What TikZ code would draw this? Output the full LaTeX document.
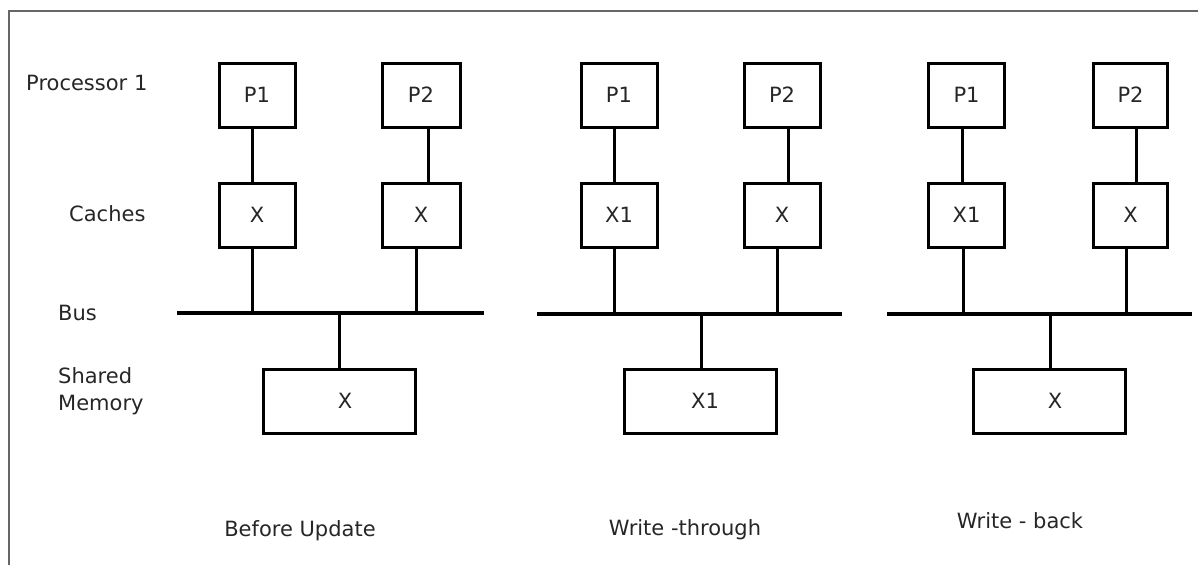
\documentclass[tikz,border=0pt]{standalone}
\usepackage{fontspec}
\setmainfont{DejaVu Sans}
\begin{document}
\begin{tikzpicture}[x=1pt,y=-1pt,
  every node/.style={font=\fontsize{21}{27}\selectfont, text=black!85},
  unit/.style={draw=black, line width=3pt, minimum width=76pt, minimum height=64pt, inner sep=0pt},
  memunit/.style={unit, minimum width=152pt},
  wire/.style={line width=3pt, black},
  busline/.style={line width=3.8pt, black},
  rowlabel/.style={anchor=west, align=left, inner sep=0pt},
  caption/.style={inner sep=0pt}]
\useasboundingbox (0,0) rectangle (1198,565);
% frame on the top and left edges
\draw[line width=2.2pt, black!60] (9,565) -- (9,11) -- (1198,11);

% row labels
\node[rowlabel] (lproc) at (26,83) {Processor 1};
\node[rowlabel] (lcache) at (69,214) {Caches};
\node[rowlabel] (lbus) at (58,313) {Bus};
\node[rowlabel] (lmem) at (58,391) {Shared\\Memory};

% ---- before update ----
\node[unit] (ap1) at (257,95) {P1};
\node[unit, minimum width=78pt] (ap2) at (421,95) {P2};
\node[unit] (ac1) at (257,215) {X};
\node[unit, minimum width=78pt] (ac2) at (421,215) {X};
\coordinate (abl) at (177,313);
\coordinate (abr) at (484,313);
\draw[busline] (abl) -- (abr);
\node[memunit] (am) at (339.5,401) {\hspace*{11pt}X};
\draw[wire] ([xshift=-5pt]ap1.south) -- ([xshift=-5pt]ac1.north);
\draw[wire] ([xshift=7pt]ap2.south) -- ([xshift=7pt]ac2.north);
\draw[wire] ([xshift=-5pt]ac1.south) -- ([xshift=-5pt]ac1.south |- abl);
\draw[wire] ([xshift=-5pt]ac2.south) -- ([xshift=-5pt]ac2.south |- abl);
\draw[wire] (am.north) -- (am.north |- abl);
\node[caption] (acap) at (300,531) {Before Update};

% ---- write-through ----
\node[unit] (bp1) at (619,95) {P1};
\node[unit] (bp2) at (782,95) {P2};
\node[unit] (bc1) at (619,215) {X1};
\node[unit] (bc2) at (782,215) {X};
\coordinate (bbl) at (537,314);
\coordinate (bbr) at (842,314);
\draw[busline] (bbl) -- (bbr);
\node[memunit] (bm) at (700,401) {\hspace*{10pt}X1};
\draw[wire] ([xshift=-5pt]bp1.south) -- ([xshift=-5pt]bc1.north);
\draw[wire] ([xshift=6pt]bp2.south) -- ([xshift=6pt]bc2.north);
\draw[wire] ([xshift=-5pt]bc1.south) -- ([xshift=-5pt]bc1.south |- bbl);
\draw[wire] ([xshift=-5pt]bc2.south) -- ([xshift=-5pt]bc2.south |- bbl);
\draw[wire] ([xshift=1pt]bm.north) -- ([xshift=1pt]bm.north |- bbl);
\node[caption] (bcap) at (685,530) {Write -through};

% ---- write-back ----
\node[unit] (cp1) at (966.5,95) {P1};
\node[unit, minimum width=74pt] (cp2) at (1130.5,95) {P2};
\node[unit] (cc1) at (966.5,215) {X1};
\node[unit, minimum width=74pt] (cc2) at (1130.5,215) {X};
\coordinate (cbl) at (887,314);
\coordinate (cbr) at (1192,314);
\draw[busline] (cbl) -- (cbr);
\node[memunit] (cm) at (1049,401) {\hspace*{12pt}X};
\draw[wire] ([xshift=-4.5pt]cp1.south) -- ([xshift=-4.5pt]cc1.north);
\draw[wire] ([xshift=5.5pt]cp2.south) -- ([xshift=5.5pt]cc2.north);
\draw[wire] ([xshift=-3.5pt]cc1.south) -- ([xshift=-3.5pt]cc1.south |- cbl);
\draw[wire] ([xshift=-4.5pt]cc2.south) -- ([xshift=-4.5pt]cc2.south |- cbl);
\draw[wire] ([xshift=1pt]cm.north) -- ([xshift=1pt]cm.north |- cbl);
\node[caption] (ccap) at (1020,521) {Write - back};
\end{tikzpicture}
\end{document}
